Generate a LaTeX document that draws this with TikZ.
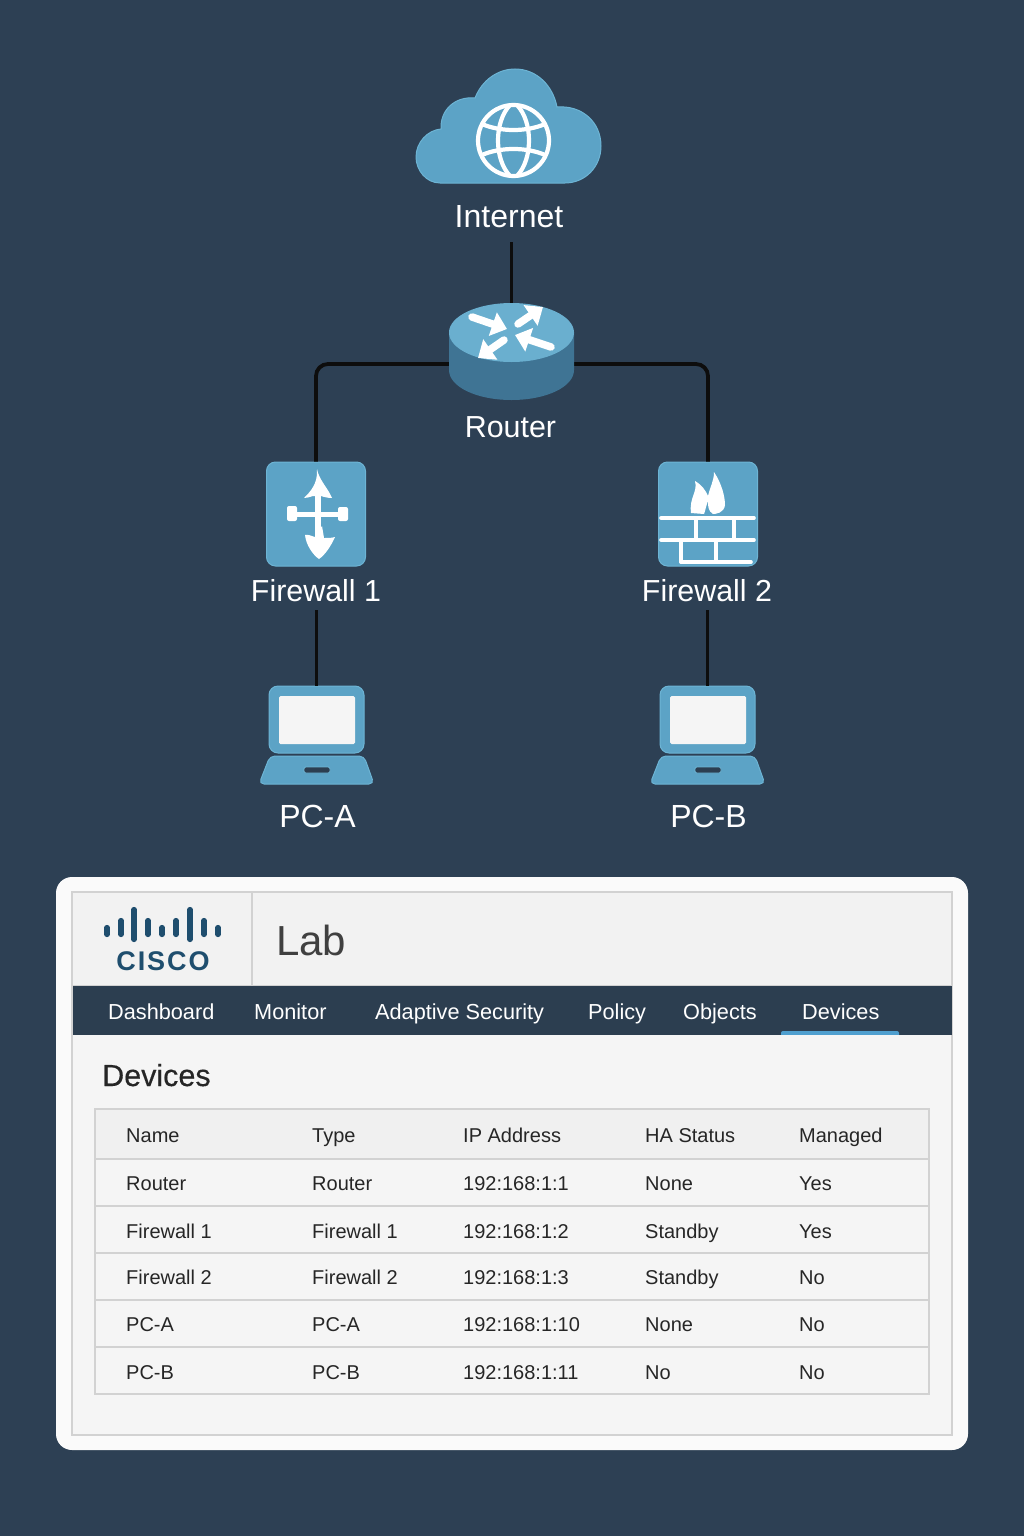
\documentclass[tikz,border=0pt]{standalone}
\usepackage{fontspec}
\setmainfont{Liberation Sans}
\newfontfamily\headfont[FakeBold=0.35]{Liberation Sans}
\newfontfamily\logofont[LetterSpace=7]{Liberation Sans Bold}
\usetikzlibrary{arrows.meta}
\definecolor{pagebg}{HTML}{2D4054}
\definecolor{iconblue}{HTML}{5CA3C6}
\definecolor{iconedge}{HTML}{6DB4D4}
\definecolor{routertop}{HTML}{6AAFCF}
\definecolor{routerside}{HTML}{3F7494}
\definecolor{navbar}{HTML}{2C3E50}
\definecolor{tabline}{HTML}{4F9FCF}
\definecolor{logoblue}{HTML}{1F4E6E}
\definecolor{panelline}{HTML}{D2D2D2}
\tikzset{
  wire/.style={draw=black!95,line width=3.8pt},
  netlabel/.style={text=white,font=\fontsize{32}{38}\selectfont,inner sep=0pt,minimum height=38pt},
  iconlabel/.style={netlabel,font=\fontsize{30.4}{36}\selectfont},
  iconbox/.style={fill=iconblue,draw=iconedge,line width=1pt,rounded corners=9pt,inner sep=0pt},
  routerarrow/.style={draw=white,line width=7.5pt,line cap=round,-{Triangle[length=15pt,width=24pt]}},
  globeline/.style={draw=white,line width=4.2pt},
  brick/.style={draw=white,line width=3.6pt,line cap=round},
  navtext/.style={text=white,font=\fontsize{21.7}{26}\selectfont,anchor=base west,inner sep=0pt},
  celltext/.style={text=black!85,font=\fontsize{20}{24}\selectfont,anchor=base west,inner sep=0pt},
  logobar/.style={draw=logoblue,line width=5.2pt,line cap=round}
}
\begin{document}
\begin{tikzpicture}[x=1pt,y=-1pt]
  \fill[pagebg] (0,0) rectangle (1024,1536);
  \useasboundingbox (0,0) rectangle (1024,1536);
  % cloud
  \fill[iconblue,draw=iconedge,line width=1pt] (440,183) .. controls (426,183) and (416,170) .. (416,157)
    .. controls (416,142) and (428,130) .. (441,129) .. controls (440,110) and (455,96) .. (475,98)
    .. controls (482,80) and (498,69) .. (515,69) .. controls (537,69) and (553,86) .. (557,107)
    .. controls (582,105) and (601,122) .. (601,146) .. controls (601,167) and (585,183) .. (565,183) -- cycle;
  \draw[globeline] (513.5,140.5) circle (35.5pt);
  \draw[globeline] (510,105) .. controls (494,122) and (494,159) .. (510,176);
  \draw[globeline] (517,105) .. controls (533,122) and (533,159) .. (517,176);
  \draw[globeline] (482,124) .. controls (500,132) and (527,132) .. (545,124);
  \draw[globeline] (482,155) .. controls (500,147) and (527,147) .. (545,155);
  \node[netlabel,minimum height=50pt] (lblinternet) at (509,217) {Internet};
  % router
  \node[minimum width=125pt,minimum height=122pt,inner sep=0pt] (router) at (511.5,364) {};
  \node[iconlabel] (lblrouter) at (510.5,427) {Router};
  % firewalls
  \node[iconbox,minimum width=99pt,minimum height=104pt] (fwa) at (316,514) {};
  \node[iconbox,minimum width=99pt,minimum height=104pt] (fwb) at (708,514) {};
  \node[iconlabel] (lblfwa) at (316,591) {Firewall 1};
  \node[iconlabel] (lblfwb) at (707,591) {Firewall 2};
  % laptops
  \foreach \x/\n/\t in {316.5/a/PC-A,707.5/b/PC-B}{
    \node[iconbox,minimum width=95pt,minimum height=67pt] (pc\n) at (\x,719.5) {};
    \node[netlabel] (lblpc\n) at (\x+1,816) {\t};
    \fill[white!96!black,rounded corners=1.5pt] (\x-37.5,696) rectangle (\x+38.5,744);
    \fill[iconblue,draw=iconedge,line width=1pt,rounded corners=5pt] (\x-46.5,756) -- (\x+47.5,756) -- (\x+57.5,784) -- (\x-57.5,784) -- cycle;
    \fill[navbar,draw=iconedge,line width=.8pt,rounded corners=1.5pt] (\x-12.5,767) rectangle (\x+13.5,773);
  }
  % links
  \draw[wire] (router.north) -- (router.north |- lblinternet.south);
  \draw[wire,rounded corners=12pt] (router.west) -| (fwa.north);
  \draw[wire,rounded corners=12pt] (router.east) -| (fwb.north);
  \draw[wire] (pca.north) -- (pca.north |- lblfwa.south);
  \draw[wire] (pcb.north) -- (pcb.north |- lblfwb.south);
  % router drum
  \fill[routerside] (449,332) -- (449,370) .. controls (449,387) and (477,400) .. (511.5,400)
    .. controls (546,400) and (574,387) .. (574,370) -- (574,332) -- cycle;
  \fill[routertop] (511.5,332.5) ellipse [x radius=62.5pt,y radius=29.5pt];
  \draw[routerarrow] (472,317) -- (507,329);
  \draw[routerarrow] (518,324) -- (543,307);
  \draw[routerarrow] (504,340) -- (478,358);
  \draw[routerarrow] (551,347) -- (515,335);
  % firewall 1 symbol
  \fill[white] (317,469) .. controls (319,480) and (328,488) .. (332,498) .. controls (328,498) and (324,497) .. (321,496)
    -- (313,496) .. controls (310,497) and (307,498) .. (304,498) .. controls (310,492) and (318,484) .. (317,469) -- cycle;
  \fill[white] (315,494) rectangle (321,541);
  \fill[white] (305,535) .. controls (308,534) and (311,536) .. (315,537) -- (322,526) -- (324,538) .. controls (328,538) and (332,538) .. (335,537)
    .. controls (331,546) and (325,555) .. (319,559) .. controls (313,555) and (306,545) .. (305,535) -- cycle;
  \fill[white] (295,512) rectangle (340,517);
  \fill[white,rounded corners=2pt] (287,506) rectangle (297,521);
  \fill[white,rounded corners=2pt] (338,507) rectangle (348,521);
  % firewall 2 symbol
  \fill[white] (691,513) .. controls (689,497) and (698,492) .. (695,481) .. controls (702,485) and (706,491) .. (708,496)
    .. controls (710,487) and (714,481) .. (714,472) .. controls (722,484) and (725,497) .. (725,505)
    .. controls (724,513) and (716,514) .. (713,514) .. controls (708,511) and (708,506) .. (708,501)
    .. controls (706,506) and (705,512) .. (704,514) -- cycle;
  \draw[brick] (661,518) -- (754,518);
  \draw[brick] (661,540) -- (754,540);
  \draw[brick] (681,562) -- (751,562);
  \draw[brick] (696,518) -- (696,540);
  \draw[brick] (734,518) -- (734,540);
  \draw[brick] (681,540) -- (681,562);
  \draw[brick] (716,540) -- (716,562);
  % console
  \fill[white!98!black,rounded corners=16pt] (56,877) rectangle (968,1450);
  \draw[panelline,fill=white!96!black,line width=1.3pt] (72,892) rectangle (952,1435);
  \draw[panelline,fill=white!95!black,line width=1.1pt] (72,892) rectangle (952,986);
  \draw[panelline,line width=1.1pt] (252,892) -- (252,986);
  \fill[navbar] (73,986) rectangle (951.5,1035);
  \fill[tabline,rounded corners=2pt] (781,1031) rectangle (899,1037);
  \fill[white!96!black] (781,1035.2) rectangle (899,1038);
  \foreach \x/\top/\bot in {107/925/937,121/918/937,134/907/942,148/918/937,162/925/937,176/918/937,190/907/942,204/918/937,218/925/937}
    {\draw[logobar] (\x,\top+2.5) -- (\x,\bot-2.5);}
  \node[text=logoblue,font=\logofont\fontsize{27}{30}\selectfont,inner sep=0pt,anchor=base] (logotext) at (163,970.5) {CISCO};
  \node[text=black!75,font=\fontsize{42}{48}\selectfont,inner sep=0pt,anchor=base west] (lab) at (276,955) {Lab};
  \foreach \x/\n/\t in {108/a/Dashboard,254/b/Monitor,375/c/Adaptive Security,588/d/Policy,683/e/Objects,802/f/Devices}
    {\node[navtext] (nav\n) at (\x,1019) {\t};}
  \node[text=black!85,font=\headfont\fontsize{30.5}{36}\selectfont,inner sep=0pt,anchor=base west] (heading) at (102,1086) {Devices};
  % table
  \fill[white!94!black] (95,1109) rectangle (929,1159);
  \draw[panelline,line width=1.3pt] (95,1109) rectangle (929,1394);
  \foreach \y in {1159,1206,1253,1300,1347}
    {\draw[panelline,line width=1.3pt] (95,\y) -- (929,\y);}
  \foreach \y/\n/\a/\b/\c/\d/\e in {1142/0/Name/Type/IP Address/HA Status/Managed,
      1190/1/Router/Router/192:168:1:1/None/Yes,
      1238/2/Firewall 1/Firewall 1/192:168:1:2/Standby/Yes,
      1284/3/Firewall 2/Firewall 2/192:168:1:3/Standby/No,
      1331/4/PC-A/PC-A/192:168:1:10/None/No,
      1379/5/PC-B/PC-B/192:168:1:11/No/No}{
    \node[celltext] (cell\n a) at (126,\y) {\a};
    \node[celltext] (cell\n b) at (312,\y) {\b};
    \node[celltext] (cell\n c) at (463,\y) {\c};
    \node[celltext] (cell\n d) at (645,\y) {\d};
    \node[celltext] (cell\n e) at (799,\y) {\e};
  }
\end{tikzpicture}
\end{document}
